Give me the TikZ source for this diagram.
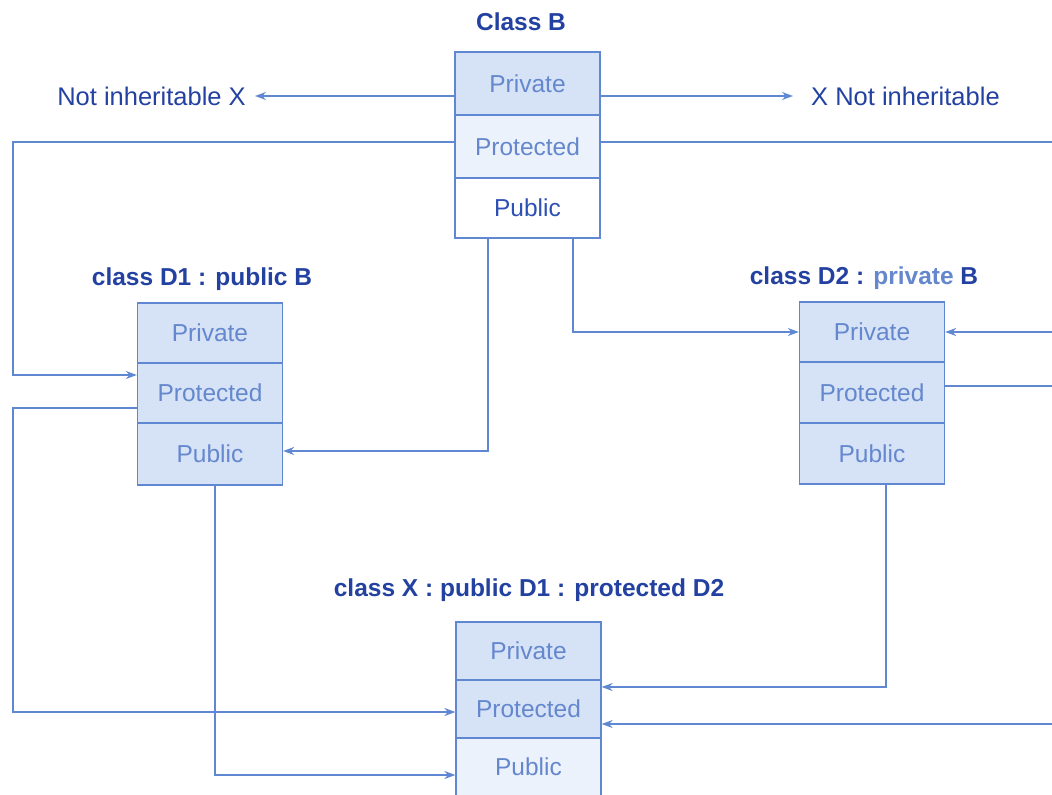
\documentclass[tikz,border=0pt]{standalone}
\usepackage{fontspec}
\setmainfont{Liberation Sans}
\usetikzlibrary{arrows.meta}
\definecolor{ln}{RGB}{95,135,210}
\definecolor{ttl}{RGB}{35,65,160}
\definecolor{celltxt}{RGB}{100,135,205}
\definecolor{darktxt}{RGB}{45,80,180}
\definecolor{fillA}{RGB}{214,227,247}
\definecolor{fillB}{RGB}{236,242,251}
\tikzset{
  ln/.style={draw=ln, line width=1.3pt},
  arr/.style={ln, -{Stealth[length=11pt,width=8pt]}},
  cellbox/.style={draw=ln, line width=1.3pt, minimum width=145pt, inner sep=0pt,
    font=\fontsize{24.5}{28}\selectfont, text=celltxt},
  titlebox/.style={font=\fontsize{24.5}{28}\selectfont\bfseries, text=ttl, inner sep=0pt},
  sidetxt/.style={font=\fontsize{25.5}{29}\selectfont, text=ttl, inner sep=0pt}
}
\begin{document}
\begin{tikzpicture}[x=1pt,y=-1pt]
\useasboundingbox (0,0) rectangle (1052,795);
\clip (0,0) rectangle (1052,795);
% Class B
\node[titlebox] (tb) at (521,22) {Class B};
\node[cellbox, fill=fillA, minimum height=63pt] (bpriv) at (527.5,83.5) {Private};
\node[cellbox, fill=fillB, minimum height=63pt] (bprot) at (527.5,146.5) {Protected};
\node[cellbox, fill=white, minimum height=60pt, text=darktxt] (bpub) at (527.5,208) {Public};
% D1
\node[titlebox] (td1) at (202,279) {class D1 : public B};
\node[cellbox, fill=fillA, minimum height=60pt] (d1priv) at (210,333) {Private};
\node[cellbox, fill=fillA, minimum height=60pt] (d1prot) at (210,393) {Protected};
\node[cellbox, fill=fillA, minimum height=62pt] (d1pub) at (210,454) {Public};
% D2
\node[titlebox] (td2) at (864,278) {class D2 : \textcolor{celltxt}{private} B};
\node[cellbox, fill=fillA, minimum height=60pt] (d2priv) at (872,332) {Private};
\node[cellbox, fill=fillA, minimum height=61pt] (d2prot) at (872,392.5) {Protected};
\node[cellbox, fill=fillA, minimum height=61pt] (d2pub) at (872,453.5) {Public};
% X
\node[titlebox] (tx) at (529,590) {class X : public D1 : protected D2};
\node[cellbox, fill=fillA, minimum height=58pt] (xpriv) at (528.5,651) {Private};
\node[cellbox, fill=fillA, minimum height=58pt] (xprot) at (528.5,709) {Protected};
\node[cellbox, fill=fillB, minimum height=58pt] (xpub) at (528.5,767) {Public};
% side texts
\node[sidetxt, anchor=east, inner xsep=9pt] (nl) at (255,96) {Not inheritable X};
\node[sidetxt, anchor=west, inner xsep=18pt] (nr) at (793,96) {X Not inheritable};
% edge coordinates
\coordinate (cL1) at (13,142);
\coordinate (cL2) at (13,408);
\coordinate (eR1) at (1052,142);
\coordinate (eR2) at (1052,332);
\coordinate (eR3) at (1052,386);
\coordinate (eR4) at (1052,724);
% connectors
\draw[arr] ([yshift=-12.5pt]bpriv.west) -- (nl.east);
\draw[arr] ([yshift=-12.5pt]bpriv.east) -- (nr.west);
\draw[arr] ([yshift=4.5pt]bprot.west) -- (cL1) |- ([yshift=18pt]d1prot.west);
\draw[ln] ([yshift=4.5pt]bprot.east) -- (eR1);
\draw[arr] ([xshift=-39.5pt]bpub.south) |- ([yshift=3pt]d1pub.east);
\draw[arr] ([xshift=45.5pt]bpub.south) |- (d2priv.west);
\draw[arr] (eR2) -- (d2priv.east);
\draw[ln] ([yshift=6.5pt]d2prot.east) -- (eR3);
\draw[arr] ([xshift=14pt]d2pub.south) |- ([yshift=22pt]xprot.east);
\draw[arr] (eR4) -- ([yshift=-15pt]xprot.east);
\draw[arr] ([yshift=-15pt]d1prot.west) -- (cL2) |- ([yshift=-3pt]xprot.west);
\draw[arr] ([xshift=5pt]d1pub.south) |- ([yshift=-8pt]xpub.west);
\end{tikzpicture}
\end{document}
